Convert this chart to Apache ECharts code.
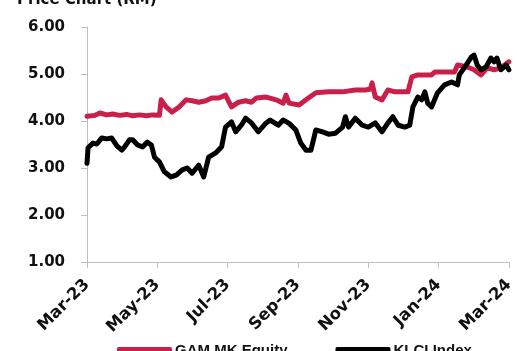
<!DOCTYPE html>
<html>
<head>
<meta charset="utf-8">
<script src="https://cdn.jsdelivr.net/npm/echarts@6/dist/echarts.min.js"></script>
<style>
html,body{margin:0;padding:0;background:#fff;}
#chart{width:517px;height:351px;}
</style>
</head>
<body>
<div id="chart"></div>
<script>
// x values are months elapsed since 1 Mar 2023
var tickLabels = ['Mar-23','May-23','Jul-23','Sep-23','Nov-23','Jan-24','Mar-24'];
var seriesNames = ['GAM MK Equity','KLCI Index'];

var gamMonths = [0,0.23,0.37,0.56,0.73,0.93,1.13,1.30,1.49,1.69,1.86,2.06,2.11,2.25,2.42,2.62,2.82,2.99,3.18,3.38,3.55,3.75,3.94,4.11,4.31,4.51,4.68,4.82,5.10,5.38,5.58,5.66,5.75,6.03,6.23,6.51,6.87,7.27,7.63,7.92,8.06,8.11,8.20,8.39,8.56,8.76,9.13,9.24,9.41,9.80,9.89,10.45,10.54,10.82,11.01,11.21,11.38,11.58,11.77,12.00];
var gamValues = [4.10,4.12,4.17,4.13,4.15,4.12,4.14,4.11,4.13,4.11,4.13,4.12,4.45,4.30,4.19,4.30,4.45,4.43,4.40,4.43,4.49,4.49,4.55,4.30,4.40,4.43,4.40,4.49,4.51,4.45,4.38,4.55,4.38,4.34,4.45,4.60,4.62,4.62,4.66,4.66,4.68,4.81,4.51,4.45,4.66,4.62,4.62,4.94,4.98,4.98,5.04,5.04,5.19,5.15,5.09,4.98,5.13,5.09,5.13,5.26];

var klciMonths = [0,0.03,0.17,0.28,0.42,0.56,0.70,0.85,0.99,1.07,1.21,1.30,1.44,1.58,1.72,1.83,1.92,2.06,2.20,2.39,2.54,2.71,2.85,2.99,3.18,3.32,3.46,3.66,3.83,3.94,4.11,4.23,4.39,4.51,4.68,4.87,5.07,5.21,5.44,5.58,5.75,5.94,6.08,6.23,6.37,6.51,6.70,6.87,7.07,7.27,7.35,7.44,7.63,7.83,8.00,8.20,8.39,8.56,8.70,8.85,9.04,9.18,9.27,9.41,9.52,9.61,9.69,9.80,9.97,10.17,10.37,10.54,10.59,10.73,10.82,10.93,11.01,11.10,11.21,11.35,11.49,11.58,11.66,11.77,11.92,12.00];
var klciValues = [3.10,3.43,3.53,3.51,3.64,3.62,3.64,3.47,3.38,3.45,3.60,3.60,3.49,3.45,3.55,3.49,3.23,3.13,2.92,2.81,2.85,2.96,3.00,2.89,3.06,2.81,3.23,3.32,3.45,3.87,3.98,3.77,3.91,4.06,3.96,3.77,3.94,4.02,3.91,4.02,3.95,3.81,3.53,3.38,3.38,3.81,3.77,3.72,3.74,3.87,4.09,3.87,4.06,3.91,3.87,3.96,3.77,3.96,4.09,3.91,3.87,3.91,4.30,4.51,4.45,4.62,4.38,4.30,4.60,4.77,4.83,4.77,4.98,5.13,5.23,5.36,5.40,5.19,5.09,5.15,5.34,5.26,5.34,5.09,5.19,5.09];

function pairs(xs, ys){ return xs.map(function(x,i){ return [x, ys[i]]; }); }

var chart = echarts.init(document.getElementById('chart'), null, {renderer:'canvas'});
var labelFont = 'DejaVu Sans';
chart.setOption({
  animation: false,
  backgroundColor: '#ffffff',
  title: {
    text: 'Price Chart (RM)',
    left: 12, top: -12,
    textStyle: {fontFamily: labelFont, fontWeight: 'bold', fontSize: 15, color: '#111'}
  },
  legend: {
    data: seriesNames,
    left: 112, top: 338,
    itemWidth: 55, itemHeight: 7, itemGap: 48,
    icon: 'roundRect',
    textStyle: {fontFamily: 'Liberation Sans', fontWeight: 'bold', fontSize: 15, color: '#111', padding: [0,0,0,-2]}
  },
  grid: {left: 87, right: 4, top: 27, bottom: 89, containLabel: false},
  xAxis: {
    type: 'value', min: 0, max: 12, interval: 2,
    splitLine: {show: false},
    axisLine: {lineStyle: {color: '#bfbfbf', width: 1}},
    axisTick: {show: true, length: 6, lineStyle: {color: '#bfbfbf'}},
    axisLabel: {
      rotate: 45, margin: 20,
      fontFamily: labelFont, fontWeight: 'bold', fontSize: 16.5, color: '#111',
      formatter: function(v){ return tickLabels[Math.round(v/2)] || ''; }
    }
  },
  yAxis: {
    type: 'value', min: 1, max: 6, interval: 1,
    splitLine: {show: false},
    axisLine: {show: true, lineStyle: {color: '#bfbfbf', width: 1}},
    axisTick: {show: true, length: 6, lineStyle: {color: '#bfbfbf'}},
    axisLabel: {
      margin: 22,
      fontFamily: labelFont, fontWeight: 'bold', fontSize: 15, color: '#111',
      formatter: function(v){ return v.toFixed(2); }
    }
  },
  series: [
    {
      name: seriesNames[0], type: 'line', data: pairs(gamMonths, gamValues),
      showSymbol: false, color: '#c8204a',
      lineStyle: {width: 5, color: '#c8204a', join: 'round', cap: 'round'}
    },
    {
      name: seriesNames[1], type: 'line', data: pairs(klciMonths, klciValues),
      showSymbol: false, color: '#000000',
      lineStyle: {width: 5, color: '#000000', join: 'round', cap: 'round'}
    }
  ]
});
</script>
</body>
</html>
